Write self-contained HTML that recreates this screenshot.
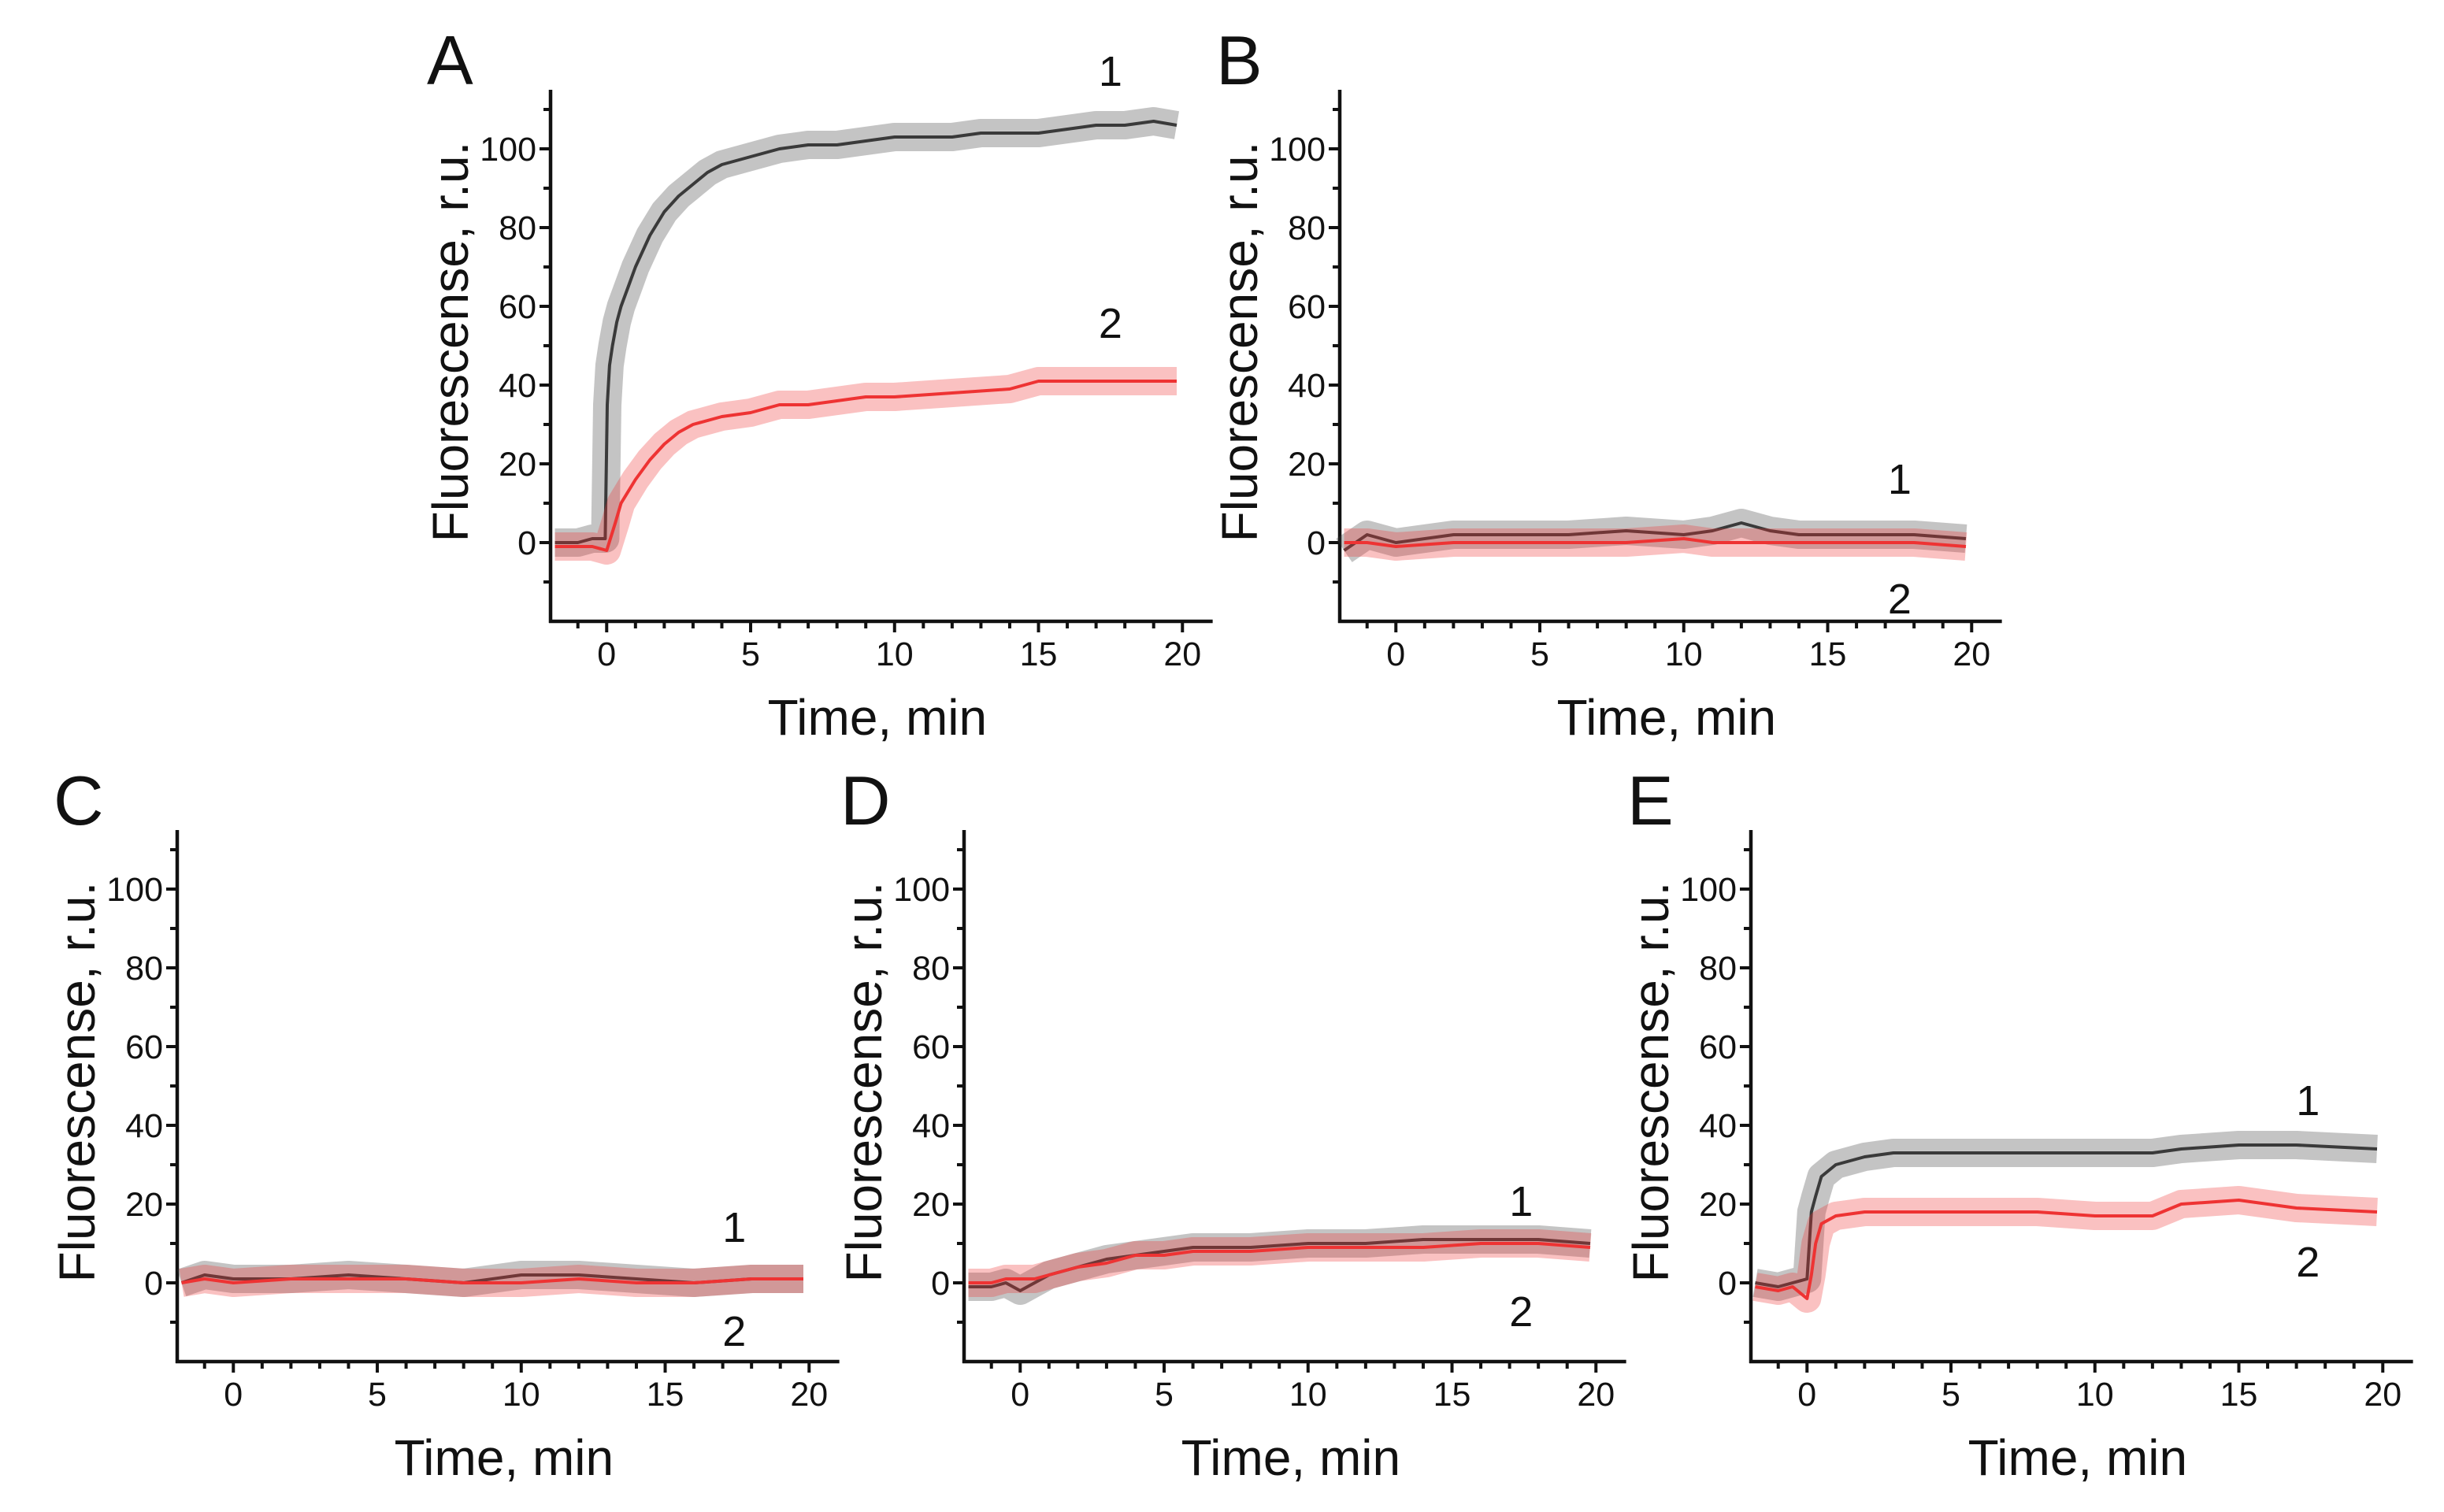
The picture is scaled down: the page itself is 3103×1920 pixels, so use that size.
<!DOCTYPE html>
<html><head><meta charset="utf-8">
<style>
html,body{margin:0;padding:0;background:#fff;}
svg{display:block;}
text{font-family:"Liberation Sans",Arial,sans-serif;fill:#111;}
</style></head>
<body>
<svg id="fig" width="3103" height="1920" viewBox="0 0 3103 1920" xmlns="http://www.w3.org/2000/svg">
<rect x="0" y="0" width="3103" height="1920" fill="#ffffff"/>
</svg>
<script>
// ---- data ----
const xTicks = [0, 5, 10, 15, 20];
const yTicks = [0, 20, 40, 60, 80, 100];
const panelLetters = ["A", "B", "C", "D", "E"];
const timeA1 = [-1.8,-1,-0.5,-0.05,0.02,0.1,0.2,0.35,0.5,0.75,1,1.5,2,2.5,3,3.5,4,5,6,7,8,9,10,11,12,13,14,15,16,17,18,19,19.8];
const valsA1 = [0,0,1,1,35,45,50,56,60,65,70,78,84,88,91,94,96,98,100,101,101,102,103,103,103,104,104,104,105,106,106,107,106];
const timeA2 = [-1.8,-1,-0.5,0,0.3,0.5,1,1.5,2,2.5,3,4,5,6,7,8,9,10,12,14,15,16,18,19.8];
const valsA2 = [-1,-1,-1,-2,5,10,16,21,25,28,30,32,33,35,35,36,37,37,38,39,41,41,41,41];
const timeB = [-1.8,-1,0,2,4,6,8,10,11,12,13,14,16,18,19.8];
const valsB1 = [-2,2,0,2,2,2,3,2,3,5,3,2,2,2,1];
const valsB2 = [0,0,-1,0,0,0,0,1,0,0,0,0,0,0,-1];
const timeC = [-1.8,-1,0,2,4,6,8,10,12,14,16,18,19.8];
const valsC1 = [0,2,1,1,2,1,0,2,2,1,0,1,1];
const valsC2 = [0,1,0,1,1,1,0,0,1,0,0,1,1];
const timeD = [-1.8,-1,-0.5,0,0.5,1,2,3,4,5,6,8,10,12,14,16,18,19.8];
const valsD1 = [-1,-1,0,-2,0,2,4,6,7,8,9,9,10,10,11,11,11,10];
const valsD2 = [0,0,1,1,1,2,4,5,7,7,8,8,9,9,9,10,10,9];
const timeE = [-1.8,-1,-0.5,0,0.15,0.3,0.5,1,2,3,5,8,10,12,13,15,17,19.8];
const valsE1 = [0,-1,0,1,18,22,27,30,32,33,33,33,33,33,34,35,35,34];
const valsE2 = [-1,-2,-1,-4,2,10,15,17,18,18,18,18,17,17,20,21,19,18];
const labelT = [17.5, 17.5, 17.4, 17.4, 17.4];
const label1V = [116, 12.4, 10.4, 17, 42.6];
const label2V = [52, -18, -16, -11, 1.6];

const panels = [
  {ax:699,  y0:689,  s1:[timeA1,valsA1], s2:[timeA2,valsA2]},
  {ax:1701, y0:689,  s1:[timeB,valsB1],  s2:[timeB,valsB2]},
  {ax:225,  y0:1629, s1:[timeC,valsC1],  s2:[timeC,valsC2]},
  {ax:1224, y0:1629, s1:[timeD,valsD1],  s2:[timeD,valsD2]},
  {ax:2223, y0:1629, s1:[timeE,valsE1],  s2:[timeE,valsE2]}
];
const XMIN = -1.95, XMAX = 21.05, YMIN = -20, YMAX = 115;
const PXT = 36.55, PXV = 5.0;
const NS = "http://www.w3.org/2000/svg";
const svg = document.getElementById('fig');
function mk(tag, attrs, parent){
  const e = document.createElementNS(NS, tag);
  for (const k in attrs) e.setAttribute(k, attrs[k]);
  (parent||svg).appendChild(e);
  return e;
}
panels.forEach((p, i) => {
  const g = mk('g', {});
  
  
  const X = t => p.ax + (t - XMIN) * PXT;
  const Y = v => p.y0 - v * PXV;
  const yb = Y(YMIN), yt = Y(YMAX), xr = X(XMAX);
  const ya = mk('line', {x1:p.ax, y1:yt, x2:p.ax, y2:yb+2, stroke:'#111', 'stroke-width':4.5}, g);
  
  
  const xa = mk('line', {x1:p.ax-2, y1:yb, x2:xr, y2:yb, stroke:'#111', 'stroke-width':4.5}, g);
  
  
  for (let v = -10; v <= 110; v += 10) {
    const major = v % 20 === 0 && v >= 0 && v <= 100;
    mk('line', {x1:p.ax, y1:Y(v), x2:p.ax-(major?14:9), y2:Y(v), stroke:'#111', 'stroke-width':4}, g);
  }
  yTicks.forEach(v => {
    const t = mk('text', {x:p.ax-18, y:Y(v)+15, 'font-size':43, 'text-anchor':'end'}, g);
    t.textContent = v;
    
    
  });
  for (let t = -1; t <= 20; t += 1) {
    const major = t % 5 === 0 && t >= 0;
    mk('line', {x1:X(t), y1:yb, x2:X(t), y2:yb+(major?14:9), stroke:'#111', 'stroke-width':4}, g);
  }
  xTicks.forEach(v => {
    const t = mk('text', {x:X(v), y:yb+56, 'font-size':43, 'text-anchor':'middle'}, g);
    t.textContent = v;
    
    
  });
  const xt = mk('text', {x:X(9.4), y:yb+144, 'font-size':64, 'text-anchor':'middle'}, g);
  xt.textContent = 'Time, min';
  
  
  const ytx = p.ax - 105, yty = Y(51);
  const yl = mk('text', {x:ytx, y:yty, 'font-size':64, 'text-anchor':'middle', transform:`rotate(-90 ${ytx} ${yty})`}, g);
  yl.textContent = 'Fluorescense, r.u.';
  
  
  const pl = mk('text', {x:p.ax-157, y:p.y0-582, 'font-size':88}, g);
  pl.textContent = panelLetters[i];
  
  
  const pathOf = s => s[0].map((t, k) => (k ? 'L' : 'M') + X(t).toFixed(1) + ' ' + Y(s[1][k]).toFixed(1)).join(' ');
  [[p.s1, '#3a3a3a', 'series-1'], [p.s2, '#ee3333', 'series-2']].forEach(([s, c, n]) => {
    const d = pathOf(s);
    const band = mk('path', {d:d, fill:'none', stroke:c, 'stroke-width':36, 'stroke-opacity':0.3, 'stroke-linejoin':'round', 'stroke-linecap':'butt'}, g);
    
    
    const core = mk('path', {d:d, fill:'none', stroke:c, 'stroke-width':4, 'stroke-linejoin':'round'}, g);
    
    
  });
  const l1 = mk('text', {x:X(labelT[i]), y:Y(label1V[i]), 'font-size':54, 'text-anchor':'middle'}, g);
  l1.textContent = '1';
  
  
  const l2 = mk('text', {x:X(labelT[i]), y:Y(label2V[i]), 'font-size':54, 'text-anchor':'middle'}, g);
  l2.textContent = '2';
  
  
});
</script>
</body></html>
